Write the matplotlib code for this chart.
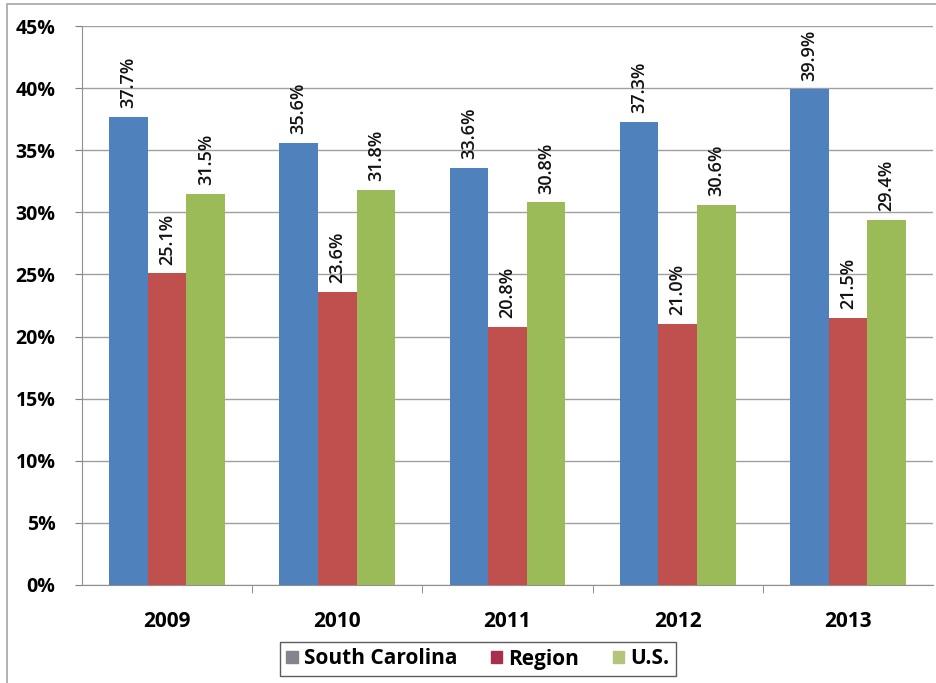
import matplotlib.pyplot as plt
import matplotlib.patches as mpatches
import numpy as np

years = ['2009', '2010', '2011', '2012', '2013']
south_carolina = [37.7, 35.6, 33.6, 37.3, 39.9]
region = [25.1, 23.6, 20.8, 21.0, 21.5]
us = [31.5, 31.8, 30.8, 30.6, 29.4]
series_names = ['South Carolina', 'Region', 'U.S.']

bar_colors = ['#4F81BD', '#C0504D', '#9BBB59']
legend_colors = ['#84848e', '#a8304e', '#b4c47a']

plt.rcParams['font.family'] = ['Open Sans', 'DejaVu Sans']

fig = plt.figure(figsize=(9.37, 6.83), dpi=100)
ax = fig.add_axes([82 / 937, 1 - 585 / 683, (933 - 82) / 937, (585 - 26) / 683])

# outer chart frame
fig.patches.append(mpatches.Rectangle((7 / 937, -0.1), 1.2, 1 - 4 / 683 + 0.1,
                                      transform=fig.transFigure, fill=False,
                                      edgecolor='#a6a6a6', lw=1.2))

x = np.arange(len(years))
w = 0.227
for i, vals in enumerate([south_carolina, region, us]):
    pos = x + (i - 1) * w
    ax.bar(pos, vals, width=w, color=bar_colors[i], zorder=3)
    for p, v in zip(pos, vals):
        ax.text(p, v + 0.7, f'{v:.1f}%', rotation=90, ha='center', va='bottom',
                fontsize=13, fontweight='semibold', color='#111111', zorder=4)

ax.set_xlim(-0.5, len(years) - 0.5)
ax.set_ylim(0, 45)
ax.set_yticks(np.arange(0, 46, 5))
ax.set_yticklabels([f'{t}%' for t in range(0, 46, 5)], fontsize=14, fontweight='bold')
ax.set_xticks(x)
ax.set_xticklabels(years, fontsize=15, fontweight='bold')
ax.set_xticks(np.arange(0.5, len(years) - 1, 1), minor=True)
ax.tick_params(axis='x', which='major', length=0, pad=19)
ax.tick_params(axis='x', which='minor', length=6, color='#808080')
ax.tick_params(axis='y', length=5, color='#808080', pad=14)
ax.grid(axis='y', color='#a0a0a0', lw=1, zorder=0)
for s in ['top', 'right']:
    ax.spines[s].set_visible(False)
for s in ['left', 'bottom']:
    ax.spines[s].set_color('#909090')

handles = [mpatches.Patch(color=c, label=n) for c, n in zip(legend_colors, series_names)]
leg = fig.legend(handles=handles, loc='center', bbox_to_anchor=(478 / 937, 1 - 659 / 683),
                 ncol=3, frameon=True, fancybox=False, edgecolor='#333333',
                 prop={'size': 15, 'weight': 'bold'}, handlelength=0.55, handleheight=0.55,
                 handletextpad=0.3, columnspacing=1.6, borderpad=0.3, borderaxespad=0)
leg.get_frame().set_linewidth(1.0)

fig.savefig('out.png', dpi=100)
